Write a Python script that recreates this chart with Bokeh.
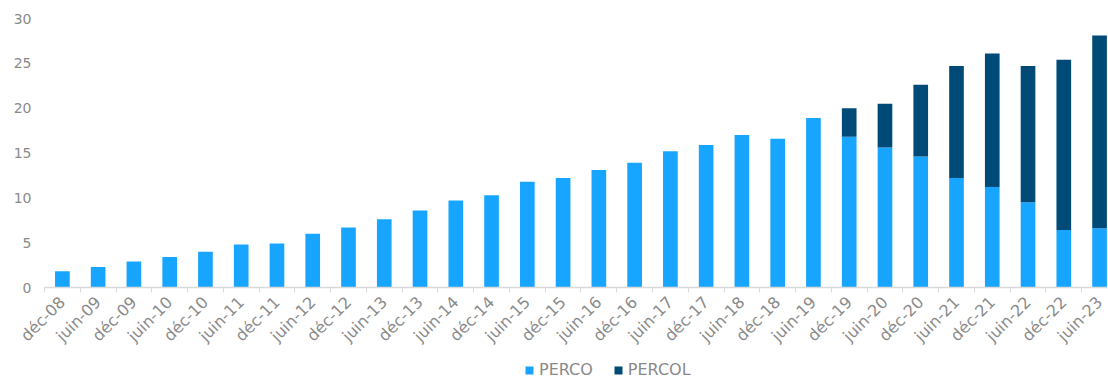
import math
from bokeh.plotting import figure
from bokeh.layouts import column
from bokeh.models import ColumnDataSource, Range1d, FixedTicker, Legend, LegendItem
from bokeh.embed import file_html
from bokeh.resources import INLINE

categories = ["déc-08", "juin-09", "déc-09", "juin-10", "déc-10", "juin-11", "déc-11",
              "juin-12", "déc-12", "juin-13", "déc-13", "juin-14", "déc-14", "juin-15",
              "déc-15", "juin-16", "déc-16", "juin-17", "déc-17", "juin-18", "déc-18",
              "juin-19", "déc-19", "juin-20", "déc-20", "juin-21", "déc-21", "juin-22",
              "déc-22", "juin-23"]
perco = [1.8, 2.3, 2.9, 3.4, 4.0, 4.8, 4.9, 6.0, 6.7, 7.6, 8.6, 9.7, 10.3, 11.8,
         12.2, 13.1, 13.9, 15.2, 15.9, 17.0, 16.6, 18.9, 16.8, 15.6, 14.6, 12.2,
         11.2, 9.5, 6.4, 6.6]
percol = [0, 0, 0, 0, 0, 0, 0, 0, 0, 0, 0, 0, 0, 0,
          0, 0, 0, 0, 0, 0, 0, 0, 3.2, 4.9, 8.0, 12.5,
          14.9, 15.2, 19.0, 21.5]
y_ticks = [0, 5, 10, 15, 20, 25, 30]

LIGHT = "#17a5ff"
DARK = "#004a78"
GREY = "#8a8a8a"
FONT = "DejaVu Sans"

x = [i + 0.5 for i in range(len(categories))]
top_total = [a + b for a, b in zip(perco, percol)]
src = ColumnDataSource(dict(x=x, perco=perco, total=top_total, cat=categories))

p = figure(width=1108, height=355, output_backend="svg", toolbar_location=None,
           x_range=Range1d(0, 29.75), y_range=Range1d(0, 30),
           min_border_left=44, min_border_right=0, min_border_top=18, min_border_bottom=0)
p.outline_line_color = None
p.xgrid.grid_line_color = None
p.ygrid.grid_line_color = None

p.vbar(x="x", top="perco", bottom=0, width=0.41, source=src, fill_color=LIGHT, line_color=None)
p.vbar(x="x", top="total", bottom="perco", width=0.41, source=src, fill_color=DARK, line_color=None)

p.xaxis.ticker = FixedTicker(ticks=x, minor_ticks=list(range(0, 31)))
p.xaxis.major_label_overrides = {xi: c for xi, c in zip(x, categories)}
p.xaxis.major_label_orientation = math.pi / 4
p.xaxis.major_tick_line_color = None
p.xaxis.minor_tick_line_color = "#d9d9d9"
p.xaxis.minor_tick_in = 0
p.xaxis.minor_tick_out = 5
p.xaxis.axis_line_color = "#d9d9d9"
p.xaxis.axis_line_width = 1.5
p.xaxis.major_label_text_color = GREY
p.xaxis.major_label_text_font = FONT
p.xaxis.major_label_text_font_size = "16px"
p.xaxis.major_label_standoff = 6

p.yaxis.ticker = FixedTicker(ticks=y_ticks)
p.yaxis.axis_line_color = None
p.yaxis.major_tick_line_color = None
p.yaxis.minor_tick_line_color = None
p.yaxis.major_label_text_color = GREY
p.yaxis.major_label_text_font = FONT
p.yaxis.major_label_text_font_size = "14px"
p.yaxis.major_label_standoff = 7

# legend strip below the chart
leg = figure(width=1108, height=24, output_backend="svg", toolbar_location=None,
             x_range=Range1d(0, 1), y_range=Range1d(100, 101),
             x_axis_location=None, y_axis_location=None, min_border=0)
leg.outline_line_color = None
leg.xgrid.grid_line_color = None
leg.ygrid.grid_line_color = None
lr1 = leg.vbar(x="x", top="perco", bottom=0, width=0.41, source=src, fill_color=LIGHT, line_color=None)
lr2 = leg.vbar(x="x", top="total", bottom="perco", width=0.41, source=src, fill_color=DARK, line_color=None)

legend = Legend(items=[LegendItem(label="PERCO", renderers=[lr1]),
                       LegendItem(label="PERCOL", renderers=[lr2])],
                orientation="horizontal", location=(480, 0),
                label_text_color=GREY, label_text_font=FONT, label_text_font_size="16px",
                glyph_width=10, glyph_height=10, label_height=16, spacing=20, padding=0,
                margin=0, border_line_color=None, background_fill_alpha=0, label_standoff=5)
leg.add_layout(legend, "center")

layout = column(p, leg, spacing=0)
open("out.html", "w").write(file_html(layout, INLINE))
